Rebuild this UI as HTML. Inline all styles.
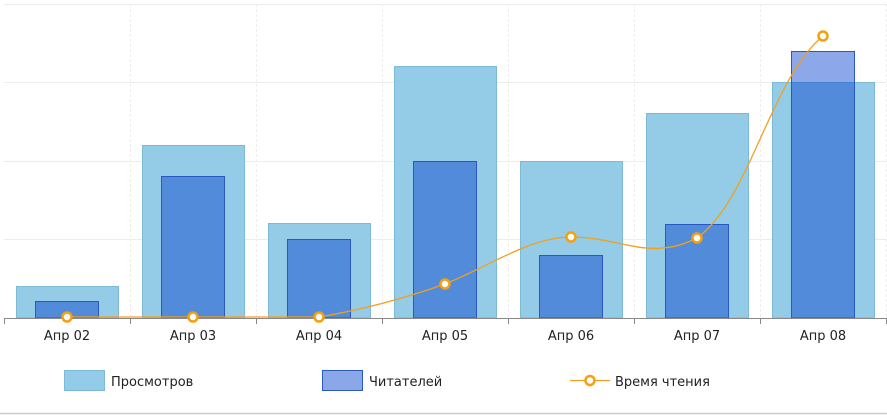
<!DOCTYPE html>
<html><head><meta charset="utf-8"><style>
body{margin:0;background:#fff;}
svg{display:block;font-family:"DejaVu Sans","Liberation Sans",sans-serif;}
</style></head><body>
<svg width="887" height="415" viewBox="0 0 887 415">
<g stroke="#ececec" stroke-width="1">
<line x1="4" y1="4.5" x2="886" y2="4.5"/>
<line x1="4" y1="82.5" x2="886" y2="82.5"/>
<line x1="4" y1="161.5" x2="886" y2="161.5"/>
<line x1="4" y1="239.5" x2="886" y2="239.5"/>
</g>
<g stroke="#eeeeee" stroke-width="1" stroke-dasharray="3,2">
<line x1="130.5" y1="4" x2="130.5" y2="318"/>
<line x1="256.5" y1="4" x2="256.5" y2="318"/>
<line x1="382.5" y1="4" x2="382.5" y2="318"/>
<line x1="508.5" y1="4" x2="508.5" y2="318"/>
<line x1="634.5" y1="4" x2="634.5" y2="318"/>
<line x1="760.5" y1="4" x2="760.5" y2="318"/>
<line x1="886.5" y1="4" x2="886.5" y2="318"/>
</g>
<g fill="#94cbe6" stroke="#7dbad9" stroke-width="1">
<rect x="16.5" y="286.5" width="102" height="31.5"/>
<rect x="142.5" y="145.5" width="102" height="172.5"/>
<rect x="268.5" y="223.5" width="102" height="94.5"/>
<rect x="394.5" y="66.5" width="102" height="251.5"/>
<rect x="520.5" y="161.5" width="102" height="156.5"/>
<rect x="646.5" y="113.5" width="102" height="204.5"/>
<rect x="772.5" y="82.5" width="102" height="235.5"/>
</g>
<g fill="rgba(0,62,204,0.45)" stroke="#2a57c0" stroke-width="1">
<rect x="35.5" y="301.5" width="63" height="16.5"/>
<rect x="161.5" y="176.5" width="63" height="141.5"/>
<rect x="287.5" y="239.5" width="63" height="78.5"/>
<rect x="413.5" y="161.5" width="63" height="156.5"/>
<rect x="539.5" y="255.5" width="63" height="62.5"/>
<rect x="665.5" y="224.5" width="63" height="93.5"/>
<rect x="791.5" y="51.5" width="63" height="266.5"/>
</g>
<line x1="4" y1="318.5" x2="886" y2="318.5" stroke="#888" stroke-width="1"/>
<g stroke="#888" stroke-width="1">
<line x1="4.5" y1="318" x2="4.5" y2="324"/><line x1="130.5" y1="318" x2="130.5" y2="324"/>
<line x1="256.5" y1="318" x2="256.5" y2="324"/><line x1="382.5" y1="318" x2="382.5" y2="324"/>
<line x1="508.5" y1="318" x2="508.5" y2="324"/><line x1="634.5" y1="318" x2="634.5" y2="324"/>
<line x1="760.5" y1="318" x2="760.5" y2="324"/><line x1="886.5" y1="318" x2="886.5" y2="324"/>
</g>
<path d="M67,317 L193,317 L319,317 C360,310 400,300 445,284 C490,266 530,237 571,237 C620,237 650,262 697,238 C750,200 770,80 823,36" fill="none" stroke="#f0a020" stroke-width="1.3"/>
<g fill="#fff" stroke="#f5a00f" stroke-width="2.5">
<circle cx="67" cy="317" r="4.5"/><circle cx="193" cy="317" r="4.5"/><circle cx="319" cy="317" r="4.5"/>
<circle cx="445" cy="284" r="4.5"/><circle cx="571" cy="237" r="4.5"/><circle cx="697" cy="238" r="4.5"/>
<circle cx="823" cy="36" r="4.5"/>
</g>
<g font-size="13" fill="#222" text-anchor="middle">
<text x="67" y="340">Апр 02</text><text x="193" y="340">Апр 03</text><text x="319" y="340">Апр 04</text>
<text x="445" y="340">Апр 05</text><text x="571" y="340">Апр 06</text><text x="697" y="340">Апр 07</text>
<text x="823" y="340">Апр 08</text>
</g>
<rect x="64.5" y="370.5" width="40" height="20" fill="#94cbe6" stroke="#7dbad9"/>
<text x="111" y="386" font-size="13" fill="#222">Просмотров</text>
<rect x="322.5" y="370.5" width="40" height="20" fill="#8aa8e8" stroke="#2a57c0"/>
<text x="369" y="386" font-size="13" fill="#222">Читателей</text>
<line x1="570" y1="380.5" x2="610" y2="380.5" stroke="#f0a020" stroke-width="1.3"/>
<circle cx="590" cy="380.5" r="4.5" fill="#fff" stroke="#f5a00f" stroke-width="2.5"/>
<text x="615" y="386" font-size="13" fill="#222">Время чтения</text>
<line x1="0" y1="413.5" x2="887" y2="413.5" stroke="#ccc" stroke-width="1.5"/>
</svg>
</body></html>
